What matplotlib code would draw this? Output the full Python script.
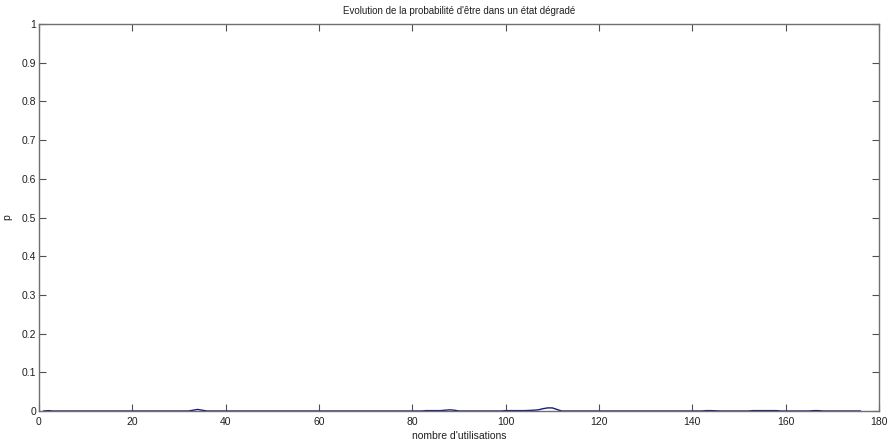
import matplotlib
matplotlib.use("Agg")
import matplotlib.pyplot as plt

# Data
x_uses = [1, 2, 3, 4, 32, 33, 34, 35, 36, 82, 83, 86, 87, 88, 89, 90,
          99, 100, 104, 106, 107, 108, 109, 110, 111, 112,
          142, 143, 144, 146, 152, 153, 158, 159, 165, 166, 167, 168, 176]
p_values = [0.0, 0.001, 0.0, 0.0, 0.0, 0.002, 0.004, 0.002, 0.0, 0.0, 0.001, 0.001, 0.002, 0.003, 0.002, 0.0,
            0.0, 0.001, 0.001, 0.002, 0.003, 0.006, 0.008, 0.008, 0.004, 0.0,
            0.0, 0.001, 0.001, 0.0, 0.0, 0.001, 0.001, 0.0, 0.0, 0.001, 0.001, 0.0, 0.0]
x_ticks = [0, 20, 40, 60, 80, 100, 120, 140, 160, 180]
y_ticks = [0, 0.1, 0.2, 0.3, 0.4, 0.5, 0.6, 0.7, 0.8, 0.9, 1]
y_ticklabels = ["0", "0.1", "0.2", "0.3", "0.4", "0.5", "0.6", "0.7", "0.8", "0.9", "1"]

plt.rcParams['font.family'] = ['Liberation Sans', 'DejaVu Sans']

fig = plt.figure(figsize=(8.93, 4.43), dpi=100)
ax = fig.add_axes([39/893, 32/443, 840/893, 387/443])

ax.plot(x_uses, p_values, color='#1a1a80', linewidth=1.0)

ax.set_xlim(0, 180)
ax.set_ylim(0, 1)
ax.set_xticks(x_ticks)
ax.set_yticks(y_ticks)
ax.set_yticklabels(y_ticklabels)

ax.tick_params(direction='in', length=5, width=0.8, color='#505050',
               labelsize=7.5, labelcolor='#202020', top=True, right=True, pad=2)
ax.tick_params(axis='x', pad=4)
for s in ax.spines.values():
    s.set_color('#707070')
    s.set_linewidth(1.0)

ax.set_title("Evolution de la probabilité d'être dans un état dégradé", fontsize=7, color='#202020', pad=7)
ax.set_xlabel("nombre d'utilisations", fontsize=7.5, color='#202020', labelpad=3)
ax.set_ylabel("p", fontsize=7.5, color='#202020', labelpad=7)

fig.savefig("out.png", dpi=100)
